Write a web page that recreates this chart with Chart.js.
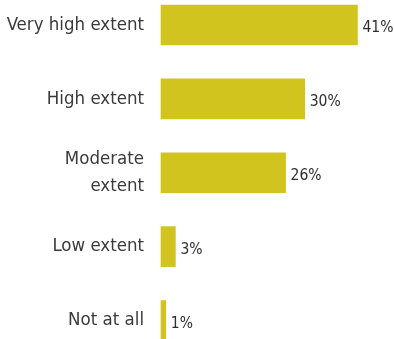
<!DOCTYPE html>
<html>
<head>
<meta charset="utf-8">
<script src="https://cdn.jsdelivr.net/npm/chart.js@4"></script>
<style>
html,body{margin:0;padding:0;background:#fff;}
#wrap{width:394px;height:339px;position:relative;}
</style>
</head>
<body>
<div id="wrap"><canvas id="c"></canvas></div>
<script>
const categories = [["Very high extent"], ["High extent"], ["Moderate", "extent"], ["Low extent"], ["Not at all"]];
const values = [41, 30, 26, 3, 1];
const valueLabels = ["41%", "30%", "26%", "3%", "1%"];

const FONT = "'DejaVu Sans Condensed', 'Liberation Sans', sans-serif";

const valuePlugin = {
  id: 'valueLabels',
  afterDatasetsDraw(chart) {
    const ctx = chart.ctx;
    const meta = chart.getDatasetMeta(0);
    ctx.save();
    ctx.font = "15.5px " + FONT;
    ctx.fillStyle = '#2e2e2e';
    ctx.textAlign = 'left';
    ctx.textBaseline = 'middle';
    meta.data.forEach((bar, i) => {
      ctx.fillText(valueLabels[i], bar.x + 5, bar.y + 3);
    });
    ctx.restore();
  }
};

new Chart(document.getElementById('c'), {
  type: 'bar',
  data: {
    labels: categories,
    datasets: [{
      data: values,
      backgroundColor: '#D2C41F',
      barThickness: 40,
      clip: false
    }]
  },
  options: {
    indexAxis: 'y',
    responsive: true,
    maintainAspectRatio: false,
    animation: false,
    layout: { padding: { top: 25, bottom: 18.5, left: 0, right: 3 } },
    plugins: { legend: { display: false }, tooltip: { enabled: false } },
    scales: {
      x: {
        display: false,
        min: 0,
        max: 48
      },
      y: {
        offset: false,
        grid: { display: false, drawTicks: false },
        border: { display: false },
        ticks: {
          padding: 17,
          color: '#3a3a3a',
          font: { family: FONT, size: 18.5, lineHeight: 1.5 }
        },
        afterFit(scale) { scale.width = 161; scale.paddingTop = 0; scale.paddingBottom = 0; }
      }
    }
  },
  plugins: [valuePlugin]
});
</script>
</body>
</html>
